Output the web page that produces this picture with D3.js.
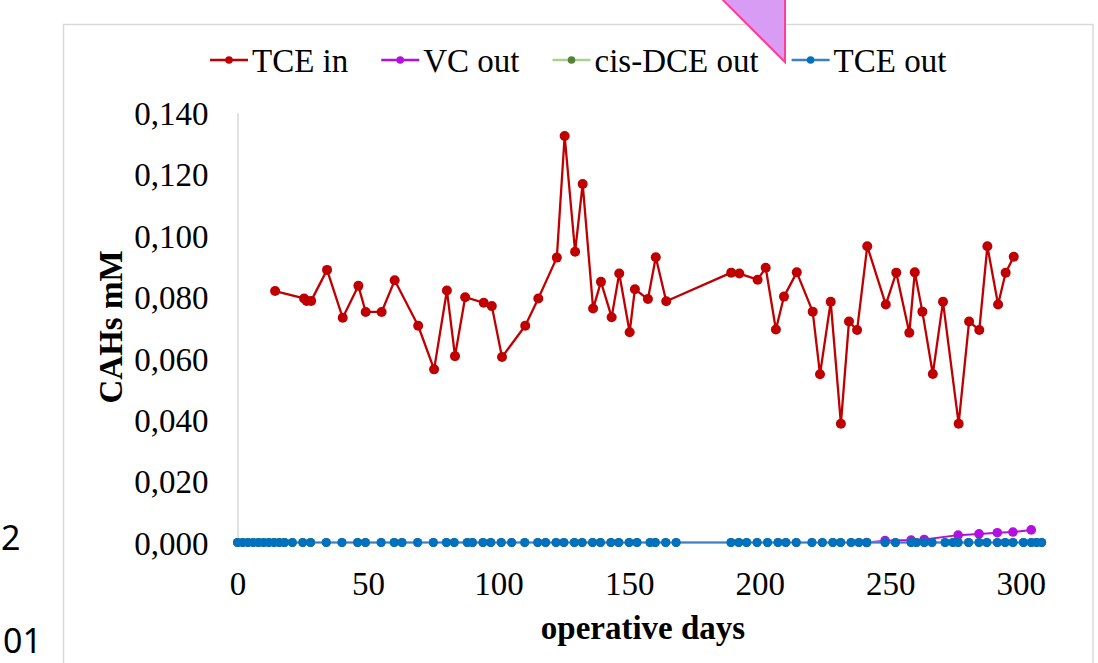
<!DOCTYPE html>
<html>
<head>
<meta charset="utf-8">
<script src="https://cdn.jsdelivr.net/npm/d3@7"></script>
<style>
body { margin: 0; background: #fff; }
</style>
</head>
<body>
<script>
const w = 1098
const h = 663
const serif = "'Liberation Serif', 'Times New Roman', serif"

// TCE in (inlet)
const tceInDays = [14.4, 25.5, 26.5, 28.2, 34.3, 40.3, 46.3, 49.1, 55.2, 60.2,
    69.2, 75.3, 80.2, 83.3, 87.2, 94.3, 97.4, 101.3, 110.2, 115.2,
    122.3, 125.3, 129.3, 132.2, 136.2, 139.2, 143.3, 146.2, 150.2, 152.2,
    157.2, 160.2, 164.2, 189.1, 192.2, 199.2, 202.3, 206.2, 209.3, 214.2,
    220.3, 223.1, 227.2, 231.1, 234.2, 237.3, 241.2, 248.3, 252.3, 257.3,
    259.4, 262.3, 266.3, 270.2, 276.2, 280.2, 284.1, 287.2, 291.3, 294.2, 297.3]
const tceInValues = [0.0819, 0.0795, 0.0787, 0.0787, 0.0888, 0.0732, 0.0836, 0.0751, 0.0751, 0.0854,
    0.0706, 0.0564, 0.0821, 0.0607, 0.0799, 0.0781, 0.0770, 0.0604, 0.0706, 0.0795,
    0.0928, 0.1324, 0.0947, 0.1168, 0.0762, 0.0849, 0.0734, 0.0876, 0.0685, 0.0825,
    0.0793, 0.0929, 0.0786, 0.0879, 0.0876, 0.0856, 0.0895, 0.0694, 0.0801, 0.0880,
    0.0752, 0.0548, 0.0784, 0.0387, 0.0720, 0.0692, 0.0965, 0.0775, 0.0879, 0.0683,
    0.0880, 0.0752, 0.0549, 0.0784, 0.0387, 0.0720, 0.0692, 0.0965, 0.0775, 0.0879, 0.0931]

// outlet sampling days
const outDays = [0, 2, 4, 6, 8, 10, 12, 14, 16, 18,
    21, 25, 28, 34, 40, 46, 49, 55, 60, 63,
    69, 75, 80, 83, 88, 90, 94, 97, 101, 105,
    110, 115, 118, 122, 125, 129, 132, 136, 139, 143,
    146, 150, 153, 158, 160, 164, 168, 189, 192, 195,
    199, 203, 207, 210, 214, 220, 224, 228, 231, 235,
    238, 241, 248, 252, 258, 260, 263, 266, 271, 274,
    276, 280, 284, 287, 291, 294, 297, 301, 304, 306, 308]
const tceOutValues = [0, 0, 0, 0, 0, 0, 0, 0, 0, 0,
    0, 0, 0, 0, 0, 0, 0, 0, 0, 0,
    0, 0, 0, 0, 0, 0, 0, 0, 0, 0,
    0, 0, 0, 0, 0, 0, 0, 0, 0, 0,
    0, 0, 0, 0, 0, 0, 0, 0, 0, 0,
    0, 0, 0, 0, 0, 0, 0, 0, 0, 0,
    0, 0, 0, 0, 0, 0, 0, 0, 0, 0,
    0, 0, 0, 0, 0, 0, 0, 0, 0, 0, 0]
const cisDceOutValues = [0, 0, 0, 0, 0, 0, 0, 0, 0, 0,
    0, 0, 0, 0, 0, 0, 0, 0, 0, 0,
    0, 0, 0, 0, 0, 0, 0, 0, 0, 0,
    0, 0, 0, 0, 0, 0, 0, 0, 0, 0,
    0, 0, 0, 0, 0, 0, 0, 0, 0, 0,
    0, 0, 0, 0, 0, 0, 0, 0, 0, 0,
    0, 0, 0, 0, 0, 0, 0, 0, 0, 0,
    0, 0, 0, 0, 0, 0, 0, 0, 0, 0, 0]

// VC out, only the part that shows above the TCE out line
const vcOutDays = [241, 248, 258, 263, 276, 284, 291, 297, 304]
const vcOutValues = [0, 0.0006, 0.0008, 0.0010, 0.0024, 0.0028, 0.0032, 0.0034, 0.0041]

const yTicks = [0, 0.02, 0.04, 0.06, 0.08, 0.10, 0.12, 0.14]
const xTicks = [0, 50, 100, 150, 200, 250, 300]

const seriesNames = ["TCE in", "VC out", "cis-DCE out", "TCE out"]
const lineColors = ["#c00000", "#b30fe0", "#a9d18e", "#3b7fc4"]
const markerColors = ["#c00000", "#b30fe0", "#548235", "#0070c0"]

const svg = d3.select("body")
    .append("svg")
    .attr("width", w)
    .attr("height", h)

// pieces of the slide around the chart
svg.append("text").attr("x", 1).attr("y", 550)
    .style("font-family", "'Noto Sans', 'Open Sans', sans-serif")
    .style("font-size", "34px")
    .text("2")
svg.append("text").attr("x", 3).attr("y", 653)
    .style("font-family", "'Noto Sans', 'Open Sans', sans-serif")
    .style("font-size", "34px")
    .text("01")

// chart frame
svg.append("rect")
    .attr("x", 63.5).attr("y", 24.5)
    .attr("width", 1093 - 63.5).attr("height", 700)
    .attr("fill", "white")
    .attr("stroke", "#d9d9d9")
    .attr("stroke-width", 1.5)

const x = d3.scaleLinear().domain([0, 320]).range([237.5, 237.5 + 320 * 2.611])
const y = d3.scaleLinear().domain([0, 0.14]).range([542.5, 112.7])

const fmt = d => d3.format(".3f")(d).replace(".", ",")

// y axis
const yAxis = svg.append("g")
    .attr("transform", "translate(237.5,0)")
    .call(d3.axisLeft(y).tickValues(yTicks).tickSize(0).tickPadding(29).tickFormat(fmt))
yAxis.select(".domain").attr("stroke", "#d9d9d9").attr("stroke-width", 1.5)
yAxis.selectAll("text")
    .style("font-family", serif)
    .style("font-size", "33px")
    .attr("fill", "black")
    .attr("dy", "0.36em")

// x axis
const xAxis = svg.append("g")
    .attr("transform", "translate(0,542.5)")
    .call(d3.axisBottom(x).tickValues(xTicks).tickSize(0).tickPadding(0).tickFormat(d3.format("d")))
xAxis.select(".domain").remove()
xAxis.selectAll("text")
    .style("font-family", serif)
    .style("font-size", "33px")
    .attr("fill", "black")
    .attr("dy", null)
    .attr("y", 52.5)

svg.append("line")
    .attr("x1", x(0)).attr("x2", x(308))
    .attr("y1", y(0)).attr("y2", y(0))
    .attr("stroke", "#d9d9d9").attr("stroke-width", 1.5)

// axis titles
svg.append("text")
    .attr("transform", "translate(122,327) rotate(-90)")
    .attr("text-anchor", "middle")
    .style("font-family", serif)
    .style("font-size", "33px")
    .style("font-weight", "bold")
    .text("CAHs mM")
svg.append("text")
    .attr("x", 643).attr("y", 639)
    .attr("text-anchor", "middle")
    .style("font-family", serif)
    .style("font-size", "33px")
    .style("font-weight", "bold")
    .text("operative days")

const drawSeries = (days, values, i, r, lw) => {
    const pts = days.map((d, k) => [d, values[k]])
    const line = d3.line().x(d => x(d[0])).y(d => y(d[1]))
    const g = svg.append("g")
    g.append("path")
        .attr("d", line(pts))
        .attr("fill", "none")
        .attr("stroke", lineColors[i])
        .attr("stroke-width", lw)
        .attr("stroke-linejoin", "round")
    g.selectAll("circle")
        .data(pts)
        .enter()
        .append("circle")
        .attr("cx", d => x(d[0]))
        .attr("cy", d => y(d[1]))
        .attr("r", r)
        .attr("fill", markerColors[i])
}

drawSeries(tceInDays, tceInValues, 0, 5, 2.3)
drawSeries(vcOutDays, vcOutValues, 1, 4.8, 2)
drawSeries(outDays, cisDceOutValues, 2, 4.5, 2)
drawSeries(outDays, tceOutValues, 3, 4.5, 2)

// legend
let lx = 210
seriesNames.forEach((name, i) => {
    const g = svg.append("g")
    g.append("line")
        .attr("x1", lx).attr("x2", lx + 38)
        .attr("y1", 60).attr("y2", 60)
        .attr("stroke", lineColors[i])
        .attr("stroke-width", 2.3)
    g.append("circle")
        .attr("cx", lx + 19).attr("cy", 60)
        .attr("r", 3.8)
        .attr("fill", markerColors[i])
    const t = g.append("text")
        .attr("x", lx + 42).attr("y", 71.7)
        .style("font-family", serif)
        .style("font-size", "33px")
        .text(name)
    lx += 42 + t.node().getComputedTextLength() + 33
})

// callout triangle poking in from above
svg.append("path")
    .attr("d", "M721,-2 L785,62 L785,-2")
    .attr("fill", "#d99cf5")
    .attr("stroke", "#ff3c9a")
    .attr("stroke-width", 2)
</script>
</body>
</html>
